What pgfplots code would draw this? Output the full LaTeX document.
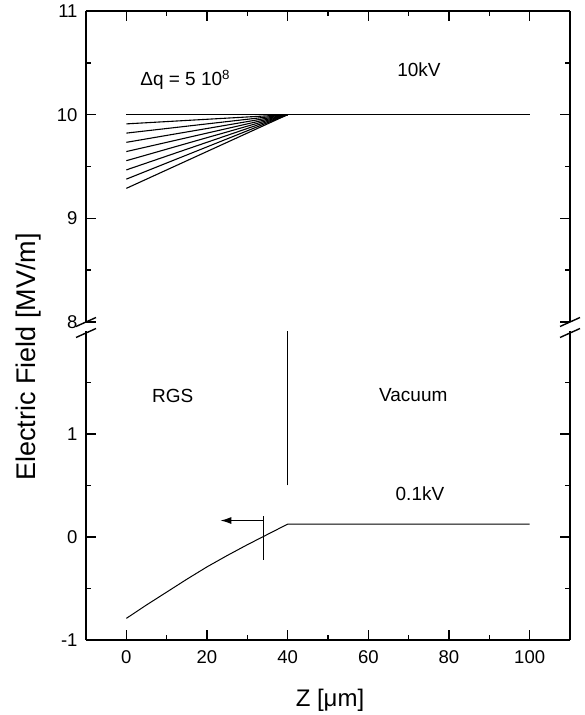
\documentclass[border=0pt]{standalone}
\usepackage{pgfplots}
\pgfplotsset{compat=1.18}
\usepackage{fontspec}
\setmainfont{Liberation Sans}
\usetikzlibrary{arrows.meta}
\pgfplotsset{
  brk/.style={
    scale only axis, width=484pt,
    xmin=-10, xmax=110,
    axis y line=box,
    xtick={0,20,...,100}, minor xtick={10,30,...,90},
    major tick length=10pt, minor tick length=5pt,
    every tick/.style={black, line width=1.4pt},
    ticklabel style={font=\fontsize{18.5}{20}\selectfont},
    yticklabel style={xshift=-5pt},
    xticklabel style={yshift=-7pt},
  },
  dat/.style={black, line width=1.1pt},
}
\begin{document}
\begin{tikzpicture}
\useasboundingbox (-86pt,-75pt) rectangle (498pt,640pt);
% upper part
\begin{axis}[brk, name=up, at={(0pt,318pt)}, anchor=south west, height=311pt,
  ymin=8, ymax=11, axis x line=top, axis y line=box,
  x axis line style={line width=1.9pt, -}, y axis line style={line width=1.9pt, -},
  every outer x axis line/.append style={line width=1.9pt},
  every outer y axis line/.append style={line width=1.9pt},
  ytick={8,9,10,11}, yticklabels={8,9,10,11}, minor ytick={8.5,9.5,10.5},
  xticklabels={}, tick align=inside]
\addplot[dat, line width=1.6pt] coordinates {(0,10) (100,10)};
\addplot[dat] coordinates {(0,9.911) (40,10)};
\addplot[dat] coordinates {(0,9.822) (40,10)};
\addplot[dat] coordinates {(0,9.733) (40,10)};
\addplot[dat] coordinates {(0,9.644) (40,10)};
\addplot[dat] coordinates {(0,9.556) (40,10)};
\addplot[dat] coordinates {(0,9.467) (40,10)};
\addplot[dat] coordinates {(0,9.378) (40,10)};
\addplot[dat] coordinates {(0,9.289) (40,10)};
\node[anchor=base west, font=\fontsize{19}{21}\selectfont] at (axis cs:2.6,10.28) {Δq = 5 10\textsuperscript{8}};
\node[anchor=base west, font=\fontsize{19}{21}\selectfont] at (axis cs:66.3,10.37) {10kV};
\end{axis}
% lower part
\begin{axis}[brk, name=lo, at={(0pt,0pt)}, anchor=south west, height=309pt,
  ymin=-1, ymax=2, axis x line=bottom, axis y line=box,
  x axis line style={line width=1.9pt, -}, y axis line style={line width=1.9pt, -},
  every outer x axis line/.append style={line width=1.9pt},
  every outer y axis line/.append style={line width=1.9pt},
  ytick={-1,0,1}, yticklabels={-1,0,1}, minor ytick={-0.5,0.5,1.5},
  xticklabels={0,20,40,60,80,100}, tick align=inside]
\addplot[black, line width=1pt] coordinates {(0,-0.79) (5,-0.66) (10,-0.535) (15,-0.41) (20,-0.29) (25,-0.18) (30,-0.075) (35,0.025) (40,0.125) (100,0.125)};
\addplot[black, line width=0.9pt] coordinates {(40,0.5) (40,2)};
\addplot[black, line width=1pt] coordinates {(34.1,0.2) (34.1,-0.22)};
\addplot[black, line width=1.4pt, -{Latex[length=11pt, width=7pt]}] coordinates {(34.1,0.16) (23.3,0.16)};
\node[anchor=base west, font=\fontsize{19}{21}\selectfont] at (axis cs:5.5,1.31) {RGS};
\node[anchor=base west, font=\fontsize{19}{21}\selectfont] at (axis cs:61.8,1.32) {Vacuum};
\node[anchor=base west, font=\fontsize{19}{21}\selectfont] at (axis cs:65.9,0.355) {0.1kV};
\end{axis}
% break marks
\foreach \xx in {0pt,484pt}{
  \draw[line width=1.4pt] ([xshift=-10pt,yshift=-4.5pt]\xx,318pt) -- ([xshift=10pt,yshift=4.5pt]\xx,318pt);
  \draw[line width=1.4pt] ([xshift=-10pt,yshift=-4.5pt]\xx,307pt) -- ([xshift=10pt,yshift=4.5pt]\xx,307pt);
}
\node[rotate=90, font=\fontsize{27}{30}\selectfont] at (-57pt,283pt) {Electric Field [MV/m]};
\node[anchor=base, font=\fontsize{24}{26}\selectfont] at (244pt,-66.5pt) {Z [μm]};
\end{tikzpicture}
\end{document}
